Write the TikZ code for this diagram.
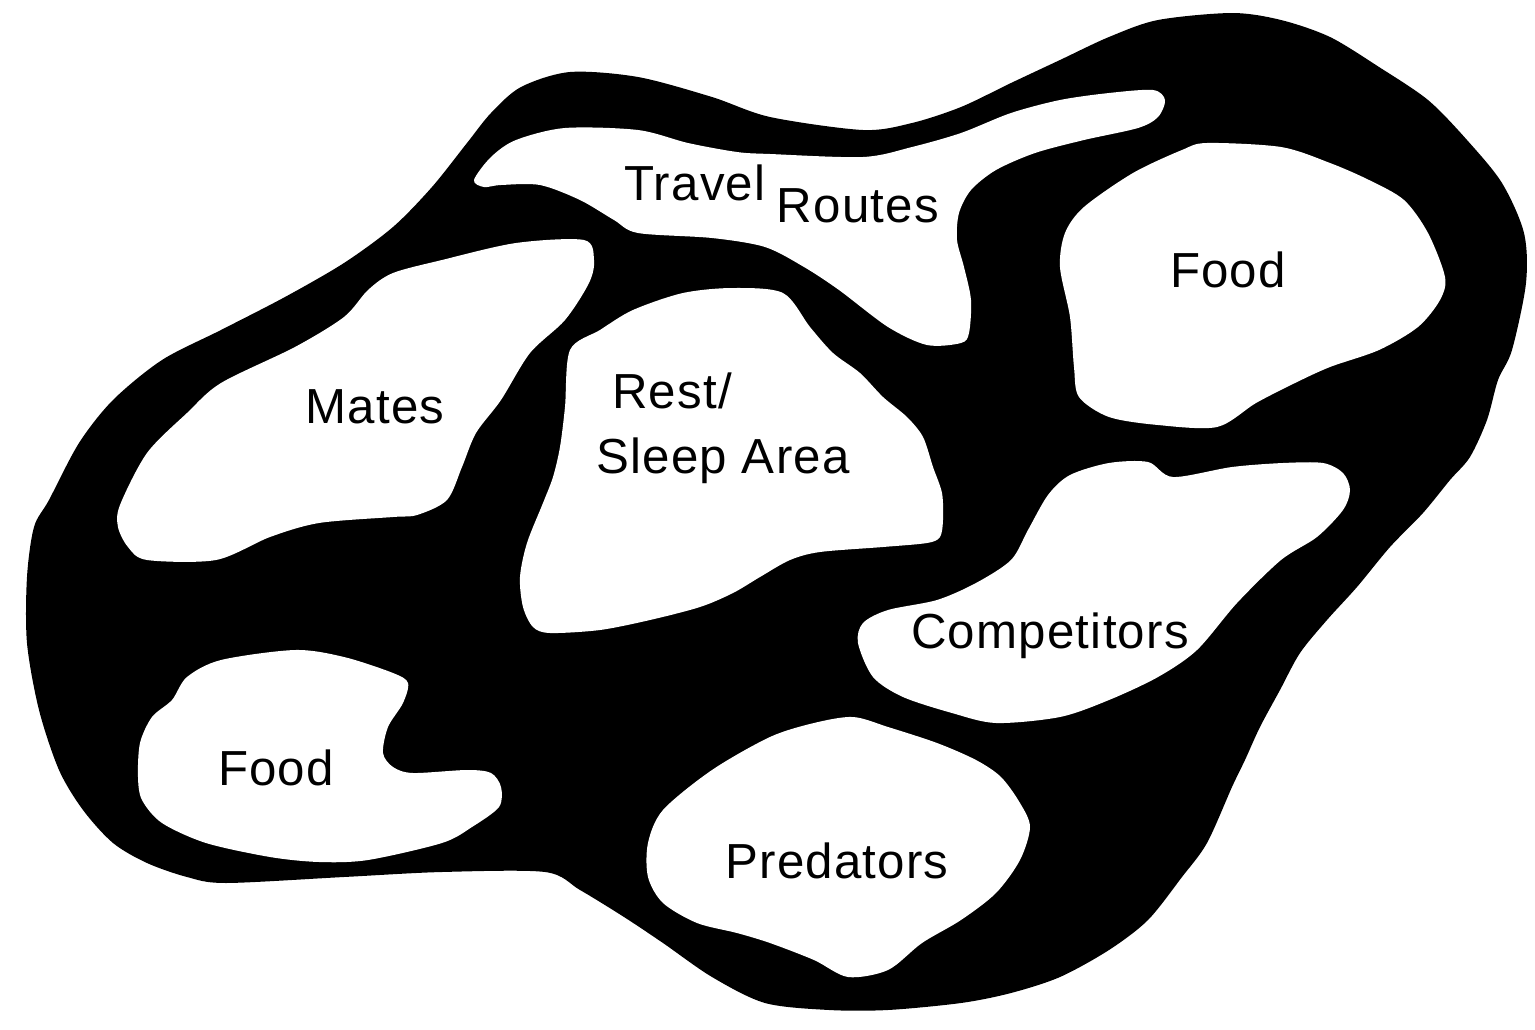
\documentclass[tikz,border=0pt]{standalone}
\usepackage{fontspec}
\setmainfont[LetterSpace=2.5]{Liberation Sans}
\tikzstyle{every picture}+=[
  land/.style={fill=black},
  patch/.style={fill=white},
  tag/.style={anchor=base,font=\fontsize{14}{16}\selectfont}
]
\newcommand*{\patchat}[1]{\fill[style=patch] plot[smooth cycle] coordinates {#1}}

\begin{document}
\begin{tikzpicture}[x=0.01cm,y=-0.01cm]
      \useasboundingbox (0,0) rectangle (1535,1030);
      % home range
      \fill[style=land] plot[smooth cycle] coordinates {
        (570,72) (638,77) (712,97) (770,117) (863,130) (912,123) (961,107)
        (1011,83) (1060,60) (1109,37) (1158,20) (1232,13) (1281,20) (1330,37)
        (1379,67) (1428,100) (1467,140) (1502,183) (1524,233) (1526,283)
        (1512,350) (1498,380) (1487,420) (1470,457) (1450,480) (1423,513)
        (1390,547) (1357,587) (1327,620) (1300,653) (1280,690) (1260,727)
        (1245,760) (1232,787) (1207,843) (1182,877) (1148,920) (1109,950)
        (1060,977) (1011,993) (961,1003) (888,1010) (829,1010) (765,1003)
        (712,977) (663,943) (624,917) (580,890) (545,872) (442,872) (344,877)
        (226,883) (187,877) (147,863) (113,843) (83,810) (59,770) (39,710)
        (27,643) (27,577) (34,527) (49,500) (79,443) (113,400) (162,360)
        (221,330) (285,297) (344,263) (393,227) (432,187) (467,143) (491,113)
        (521,87)};
      %
      \patchat{(474,180) (491,157) (516,140) (565,128) (638,130) (688,143)
        (737,152) (770,154) (863,157) (912,147) (961,133) (1011,113) (1060,100)
        (1109,93) (1153,90) (1165,100) (1158,117) (1138,128) (1084,140)
        (1035,153) (996,170) (971,190) (959,213) (957,240) (964,267) (971,300)
        (969,333) (961,343) (927,345) (888,327) (839,290) (804,267) (765,247)
        (712,238) (638,233) (614,220) (580,200) (540,185) (501,185) (484,187)};
      \patchat{(584,240) (594,260) (589,283) (565,320) (530,353) (501,400)
        (476,433) (462,467) (447,500) (417,515) (393,517) (319,523) (270,537)
        (216,560) (147,560) (128,547) (118,527) (120,505) (147,453) (187,413)
        (221,383) (295,347) (344,317) (368,290) (393,273) (442,260) (516,243)};
      \patchat{(570,350) (600,330) (633,310) (683,293) (733,288) (783,293)
        (810,327) (833,353) (860,373) (883,397) (907,417) (923,437) (933,467)
        (942,493) (943,520) (940,537) (927,543) (883,547) (820,552) (790,560)
        (760,577) (733,593) (700,607) (650,620) (600,630) (550,633) (533,627)
        (523,607) (520,577) (527,543) (543,503) (553,477) (560,447) (565,407)};
      \patchat{(1207,143) (1281,147) (1330,163) (1369,180) (1404,200) (1428,233)
        (1445,277) (1440,300) (1418,327) (1379,350) (1330,367) (1295,383)
        (1256,403) (1217,427) (1158,425) (1109,417) (1079,397) (1074,367)
        (1070,317) (1060,267) (1065,233) (1084,207) (1133,173) (1182,150)};
      \patchat{(1070,475) (1109,463) (1148,462) (1173,477) (1232,467) (1283,463)
        (1323,463) (1343,473) (1350,490) (1343,510) (1317,537) (1281,560)
        (1237,603) (1197,650) (1158,677) (1109,700) (1060,717) (996,723)
        (952,713) (903,697) (873,677) (858,643) (863,623) (888,610) (937,600)
        (976,583) (1011,560) (1028,530) (1048,495)};
      \patchat{(187,677) (221,660) (295,650) (344,657) (393,673) (408,683)
        (403,703) (388,727) (383,753) (393,767) (413,773) (467,770) (491,773)
        (501,787) (499,807) (472,827) (442,843) (368,860) (319,862) (270,857)
        (206,843) (162,823) (142,800) (138,777) (140,743) (152,717) (172,700)};
      \patchat{(770,737) (712,770) (663,810) (648,843) (648,877) (663,903)
        (697,923) (737,933) (770,943) (814,960) (848,977) (888,970) (922,943)
        (961,920) (996,893) (1020,860) (1030,827) (1020,803) (1001,777)
        (976,760) (937,743) (888,727) (853,717) (814,723)};
      %
      \node[style=tag] (travel) at (695,200) {Travel};
      \node[style=tag] (routes) at (858,222) {Routes};
      \node[style=tag] (foodne) at (1228,287) {Food};
      \node[style=tag] (mates) at (375,423) {Mates};
      \node[style=tag] (rest) at (672,408) {Rest/};
      \node[style=tag] (sleep) at (723,473) {Sleep Area};
      \node[style=tag] (comp) at (1050,648) {Competitors};
      \node[style=tag] (foodsw) at (276,785) {Food};
      \node[style=tag] (pred) at (837,878) {Predators};
      %
\end{tikzpicture}
\end{document}
